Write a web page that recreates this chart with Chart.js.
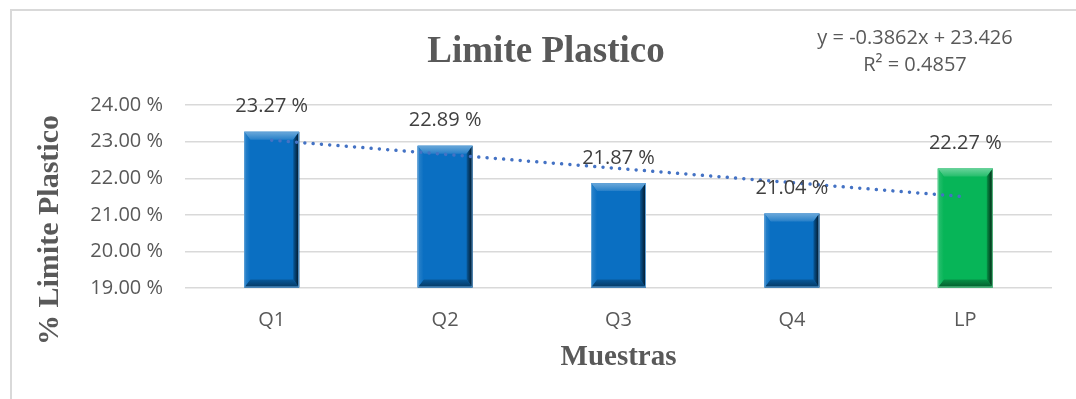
<!DOCTYPE html>
<html>
<head>
<meta charset="utf-8">
<script src="https://cdn.jsdelivr.net/npm/chart.js@4.4.1/dist/chart.umd.min.js"></script>
<style>
  body { margin: 0; background: #ffffff; }
  #wrap { position: relative; width: 1076px; height: 399px; }
</style>
</head>
<body>
<div id="wrap"><canvas id="canv" width="1076" height="399"></canvas></div>
<script>
// muestras y valores del limite plastico (%)
var muestras = ['Q1', 'Q2', 'Q3', 'Q4', 'LP'];
var limitePlastico = [23.27, 22.89, 21.87, 21.04, 22.27];
var coloresBarra = ['#0a6fc2', '#0a6fc2', '#0a6fc2', '#0a6fc2', '#07b558'];

// eje y
var yMin = 19;
var yMax = 24;
var yPaso = 1;

// linea de tendencia lineal (ecuacion que muestra el grafico)
var pendiente = -0.3862;
var intercepto = 23.426;
var r2 = 0.4857;

var tendencia = muestras.map(function(m, i){ return intercepto + pendiente * (i + 1); });

var gris = '#595959';
var sans = "'Open Sans', sans-serif";
var serif = "'Liberation Serif', 'Times New Roman', serif";

// mezcla un color hex con blanco (t>0) o negro (t<0)
function mezcla(hex, t){
  var r = parseInt(hex.substr(1,2),16), g = parseInt(hex.substr(3,2),16), b = parseInt(hex.substr(5,2),16);
  var o = t > 0 ? 255 : 0, k = Math.abs(t);
  r = Math.round(r + (o - r) * k); g = Math.round(g + (o - g) * k); b = Math.round(b + (o - b) * k);
  return 'rgb(' + r + ',' + g + ',' + b + ')';
}

function poly(ctx, pts, fill){
  ctx.beginPath();
  ctx.moveTo(pts[0][0], pts[0][1]);
  for (var i = 1; i < pts.length; i++) ctx.lineTo(pts[i][0], pts[i][1]);
  ctx.closePath();
  ctx.fillStyle = fill;
  ctx.fill();
}

// marco, titulo, biselado de barras, etiquetas, ecuacion y titulo del eje y
const extras = {
  id: 'extras',
  beforeDraw(chart){
    var ctx = chart.ctx;
    ctx.save();
    ctx.strokeStyle = '#d9d9d9';
    ctx.lineWidth = 2;
    ctx.strokeRect(11, 10, 1200, 500);
    ctx.fillStyle = gris;
    ctx.font = 'bold 37px ' + serif;
    ctx.textAlign = 'center';
    ctx.textBaseline = 'middle';
    ctx.fillText('Limite Plastico', 546, 52);
    ctx.restore();
  },
  afterDatasetDraw(chart, args){
    if (args.meta.type !== 'bar') return;
    var ctx = chart.ctx;
    ctx.save();
    args.meta.data.forEach(function(el, i){
      var p = el.getProps(['x', 'y', 'base', 'width'], true);
      var l = p.x - p.width / 2, r = p.x + p.width / 2, t = p.y;
      var b = Math.min(p.base, chart.chartArea.bottom);
      var c = coloresBarra[i];
      var bv = 8, bs = 6;
      var g;
      // arriba
      g = ctx.createLinearGradient(0, t, 0, t + bv);
      g.addColorStop(0, mezcla(c, 0.4)); g.addColorStop(1, mezcla(c, 0.12));
      poly(ctx, [[l, t], [r, t], [r - bs, t + bv], [l + bs, t + bv]], g);
      // abajo
      g = ctx.createLinearGradient(0, b - bv, 0, b);
      g.addColorStop(0, mezcla(c, -0.2)); g.addColorStop(1, mezcla(c, -0.5));
      poly(ctx, [[l, b], [r, b], [r - bs, b - bv], [l + bs, b - bv]], g);
      // izquierda
      g = ctx.createLinearGradient(l, 0, l + bs, 0);
      g.addColorStop(0, mezcla(c, 0.15)); g.addColorStop(1, c);
      poly(ctx, [[l, t], [l + bs, t + bv], [l + bs, b - bv], [l, b]], g);
      // derecha
      g = ctx.createLinearGradient(r - bs, 0, r, 0);
      g.addColorStop(0, mezcla(c, -0.2)); g.addColorStop(1, mezcla(c, -0.85));
      poly(ctx, [[r, t], [r - bs, t + bv], [r - bs, b - bv], [r, b]], g);
      ctx.strokeStyle = mezcla(c, 0.35);
      ctx.lineWidth = 1;
      ctx.strokeRect(l + 0.5, t + 0.5, p.width - 1, b - t - 1);
    });
    ctx.restore();
  },
  afterDatasetsDraw(chart){
    var ctx = chart.ctx;
    var meta = chart.getDatasetMeta(0);
    ctx.save();
    ctx.font = '20px ' + sans;
    ctx.fillStyle = '#404040';
    ctx.textAlign = 'center';
    ctx.textBaseline = 'middle';
    meta.data.forEach(function(el, i){
      ctx.fillText(limitePlastico[i].toFixed(2) + ' %', el.x, el.y - 25);
    });
    ctx.fillStyle = gris;
    ctx.font = '20px ' + sans;
    var signo = pendiente < 0 ? '-' : '';
    ctx.fillText('y = ' + signo + Math.abs(pendiente) + 'x + ' + intercepto, 915, 38);
    ctx.fillText('R\u00b2 = ' + r2, 915, 65);
    ctx.translate(50, 230);
    ctx.rotate(-Math.PI / 2);
    ctx.font = 'bold 30px ' + serif;
    ctx.fillText('% Limite Plastico', 0, 0);
    ctx.restore();
  }
};

const data_chart = {
  labels: muestras,
  datasets: [{
    type: 'bar',
    label: 'Limite Plastico',
    data: limitePlastico,
    base: yMin,
    backgroundColor: coloresBarra,
    barPercentage: 0.317,
    categoryPercentage: 1,
    order: 1
  }, {
    type: 'line',
    label: 'Tendencia',
    data: tendencia,
    borderColor: '#4472c4',
    borderWidth: 3.5,
    borderDash: [0.01, 8.3],
    borderCapStyle: 'round',
    pointRadius: 0,
    fill: false,
    order: 0
  }]
};

const config_chart = {
  data: data_chart,
  plugins: [extras],
  options: {
    responsive: false,
    animation: false,
    devicePixelRatio: 1,
    layout: { padding: { top: 105, right: 24, bottom: 20, left: 29 } },
    plugins: {
      legend: { display: false },
      tooltip: { enabled: false },
      title: { display: false }
    },
    scales: {
      x: {
        grid: { display: false, drawTicks: false },
        border: { display: false },
        ticks: { color: gris, font: { family: sans, size: 20 }, padding: 20 },
        title: {
          display: true,
          text: 'Muestras',
          color: gris,
          font: { family: serif, size: 29, weight: 'bold', lineHeight: 1.2 },
          padding: { top: 0, bottom: 4 }
        },
        afterFit: function(scale){ scale.height = 90.8; }
      },
      y: {
        min: yMin,
        max: yMax,
        grid: { color: '#d9d9d9', lineWidth: 1.5, drawTicks: false },
        border: { display: false },
        ticks: {
          stepSize: yPaso,
          color: gris,
          font: { family: sans, size: 20 },
          padding: 22,
          callback: function(v){ return v.toFixed(2) + ' %'; }
        },
        afterFit: function(scale){ scale.width = 156; }
      }
    }
  }
};

var myChart = new Chart(document.getElementById('canv'), config_chart);
</script>
</body>
</html>
